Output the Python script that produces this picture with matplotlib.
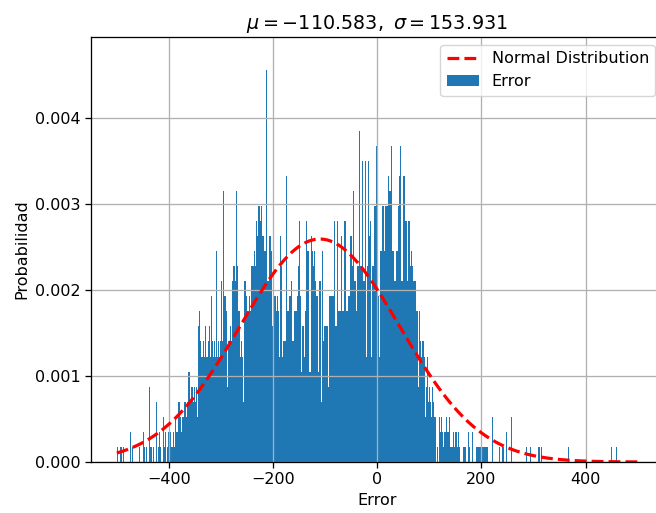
import numpy as np
import matplotlib
matplotlib.use('Agg')
import matplotlib.pyplot as plt

# title values
mu = -110.583
sigma = 153.931

# histogram counts, left to right, in ten runs
seg1 = [1, 0, 0, 1, 1, 0, 1, 0, 0, 0, 0, 0, 0, 2, 0, 1, 0, 0, 0, 0, 0, 0, 1, 0, 0, 0,
        2, 1, 0, 1, 0, 0, 5, 1, 1, 0, 1, 0, 0, 4, 0, 1, 2, 1, 0, 0, 3, 1, 2, 0, 1, 2]
seg2 = [1, 2, 1, 1, 2, 1, 3, 2, 2, 4, 4, 3, 2, 3, 3, 4, 4, 3, 4, 6, 6, 4, 5, 5, 4, 5,
        4, 5, 3, 9, 10, 8, 7, 7, 8, 7, 9, 7, 7, 8, 9, 7, 11, 8, 7, 8, 7, 14, 7, 8, 7, 8]
seg3 = [12, 8, 18, 11, 11, 10, 5, 8, 8, 9, 8, 12, 13, 13, 12, 18, 13, 10, 10, 7, 8, 7,
        4, 12, 12, 11, 10, 10, 11, 10, 13, 13, 13, 14, 13, 16, 15, 17, 17, 16, 17, 15,
        15, 14, 14, 26, 12, 12, 15, 15, 14, 9]
seg4 = [12, 11, 11, 10, 11, 10, 7, 15, 13, 7, 8, 8, 8, 19, 10, 10, 11, 11, 12, 8, 8, 10,
        10, 10, 11, 13, 16, 11, 6, 9, 9, 7, 10, 16, 14, 14, 6, 6, 15, 14, 13, 14, 12,
        11, 11, 6, 12, 12, 4, 14, 8, 9]
seg5 = [9, 9, 9, 5, 11, 11, 11, 11, 11, 16, 9, 9, 16, 10, 10, 10, 15, 10, 10, 16, 16, 10,
        10, 11, 11, 15, 15, 13, 18, 12, 12, 10, 13, 13, 22, 13, 13, 20, 12, 12, 20, 7,
        13, 20, 15, 16, 7, 13, 13, 17, 17, 21]
seg6 = [21, 11, 7, 14, 14, 17, 17, 14, 17, 17, 17, 19, 18, 18, 21, 14, 14, 12, 12, 14,
        14, 17, 19, 21, 12, 12, 19, 19, 16, 16, 12, 16, 16, 13, 14, 13, 12, 12, 12, 10,
        10, 5, 10, 8, 7, 8, 8, 7, 3, 5, 7, 4]
seg7 = [5, 4, 3, 5, 4, 3, 3, 0, 1, 0, 3, 2, 3, 2, 1, 2, 2, 3, 2, 2, 3, 1, 1, 1, 2, 1,
        2, 2, 1, 2, 1, 0, 0, 0, 1, 1, 1, 0, 0, 2, 1, 0, 0, 2, 0, 0, 0, 1, 1, 1, 1, 1]
seg8 = [1, 1, 1, 1, 1, 1, 1, 0, 0, 0, 0, 3, 0, 0, 0, 0, 0, 0, 1, 0, 0, 1, 1, 0, 0, 2,
        0, 0, 0, 0, 3, 0, 0, 0, 0, 0, 0, 0, 0, 0, 0, 0, 0, 0, 0, 1, 0, 0, 0, 1, 0, 0]
seg9 = [0, 0, 0, 0, 0, 1, 1, 0, 1, 0, 0, 0, 0, 0, 0, 0, 0, 0, 0, 0, 0, 0, 0, 0, 0, 0,
        0, 0, 0, 0, 0, 0, 0, 0, 0, 1, 0, 0, 0, 0, 0, 0, 0, 0, 0, 0, 0, 0, 0, 0, 0, 0]
seg10 = [0, 0, 0, 0, 0, 0, 0, 0, 0, 0, 0, 0, 0, 0, 0, 0, 0, 0, 0, 0, 0, 0, 0, 0, 0, 0,
         1, 0, 0, 0, 0, 1, 0, 0, 0, 0, 0, 0, 0, 0, 0, 0, 0, 0, 0, 0, 0, 0, 0, 0, 0, 0]

counts = np.array(seg1 + seg2 + seg3 + seg4 + seg5 + seg6 + seg7 + seg8 + seg9 + seg10, dtype=float)
edges = np.linspace(-500.6, 499.4, len(counts) + 1)
centers = (edges[:-1] + edges[1:]) / 2

# the reference looks like a default figure blown up ~1.15x
k = 1.15
plt.rcParams['font.size'] = 10 * k
plt.rcParams['axes.linewidth'] = 0.8 * k
plt.rcParams['grid.linewidth'] = 0.8 * k
plt.rcParams['xtick.major.size'] = 3.5 * k
plt.rcParams['ytick.major.size'] = 3.5 * k
plt.rcParams['xtick.major.width'] = 0.8 * k
plt.rcParams['ytick.major.width'] = 0.8 * k

fig = plt.figure(figsize=(6.56, 5.13), dpi=100)
ax = fig.add_axes([90.8 / 656, 51 / 513, 572.5 / 656, 425 / 513])

# normal curve on the bin edges
pdf = np.exp(-0.5 * ((edges - mu) / sigma) ** 2) / (sigma * np.sqrt(2 * np.pi))
ax.plot(edges, pdf, 'r--', linewidth=2 * k, label='Normal Distribution')
ax.hist(centers, bins=edges, weights=counts, density=True, color='#1f77b4', label='Error')

ax.set_ylim(0, 0.00494)
ax.set_title(r'$\mu=-110.583,\ \sigma=153.931$')
ax.set_xlabel('Error')
ax.set_ylabel('Probabilidad')
ax.grid(True)
ax.legend(loc='upper right')

fig.savefig('out.png', dpi=100)
